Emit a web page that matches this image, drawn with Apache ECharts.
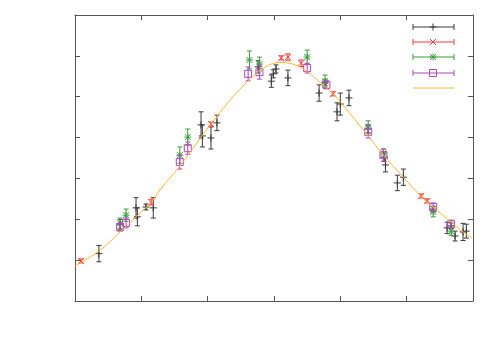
<!DOCTYPE html>
<html>
<head>
<meta charset="utf-8">
<script src="https://cdn.jsdelivr.net/npm/echarts@6/dist/echarts.min.js"></script>
<style>
html,body{margin:0;padding:0;background:#fff;}
#chart{width:500px;height:350px;}
</style>
</head>
<body>
<div id="chart"></div>
<script>
// [x, y, error]
const blackData = [
  [0.36,1.16,0.20],[0.68,1.88,0.12],[0.92,2.28,0.25],[0.94,2.06,0.22],[1.07,2.30,0.07],
  [1.18,2.28,0.25],[1.90,4.31,0.32],[1.92,4.04,0.27],[2.05,3.99,0.27],[2.14,4.36,0.19],
  [2.76,5.73,0.15],[2.96,5.38,0.15],[2.99,5.56,0.10],[3.03,5.68,0.10],[3.21,5.46,0.19],
  [3.68,5.09,0.20],[3.77,5.34,0.07],[3.95,4.63,0.22],[4.00,4.82,0.27],[4.13,4.97,0.19],
  [4.42,4.21,0.10],[4.66,3.52,0.10],[4.68,3.33,0.17],[4.86,2.89,0.19],[4.95,3.03,0.20],
  [5.40,2.25,0.07],[5.61,1.79,0.14],[5.67,1.84,0.07],[5.73,1.59,0.12],[5.85,1.69,0.21],
  [5.90,1.71,0.17]
];
const redData = [
  [0.09,0.98,0.05],[1.15,2.42,0.07],[2.05,4.33,0.05],[3.11,5.95,0.05],[3.21,5.97,0.08],
  [3.41,5.82,0.08],[3.89,5.07,0.05],[5.22,2.57,0.05],[5.31,2.45,0.05]
];
const greenData = [
  [0.68,1.90,0.13],[0.77,2.10,0.15],[1.58,3.57,0.20],[1.70,4.01,0.20],[2.63,5.90,0.22],
  [2.78,5.80,0.17],[3.50,5.97,0.17],[3.77,5.38,0.15],[4.42,4.26,0.15],[4.65,3.62,0.10],
  [5.40,2.18,0.12],[5.67,1.71,0.10]
];
const purpleData = [
  [0.68,1.81,0.10],[0.77,1.91,0.12],[1.58,3.40,0.17],[1.70,3.74,0.15],[2.61,5.56,0.17],
  [2.78,5.60,0.17],[3.50,5.70,0.12],[3.79,5.29,0.10],[4.42,4.14,0.15],[4.65,3.57,0.15],
  [5.40,2.30,0.10],[5.67,1.88,0.10]
];
const fitCurve = [
  [0,0.86],[0.36,1.22],[0.68,1.69],[0.92,2.06],[1.15,2.42],[1.28,2.72],[1.58,3.30],
  [1.90,4.01],[2.04,4.31],[2.34,4.92],[2.64,5.43],[2.87,5.73],[3.09,5.84],[3.32,5.78],
  [3.47,5.65],[3.65,5.41],[3.89,5.07],[4.15,4.58],[4.42,4.04],[4.65,3.57],[4.95,3.03],
  [5.21,2.57],[5.40,2.30],[5.67,1.93],[5.85,1.69],[5.99,1.54]
];

const C_BLACK = '#3a3a3a', C_RED = '#ff3b3b', C_GREEN = '#3a9e3a', C_PURPLE = '#b048c0', C_ORANGE = '#ffb733';

function markerShapes(shape, cx, cy, color) {
  const st = {stroke: color, lineWidth: 1, fill: null};
  const L = (x1,y1,x2,y2) => ({type:'line', shape:{x1,y1,x2,y2}, style:st});
  const r = 3.5, d = 3;
  if (shape === 'plus') return [L(cx-r,cy,cx+r,cy), L(cx,cy-r,cx,cy+r)];
  if (shape === 'cross') return [L(cx-d,cy-d,cx+d,cy+d), L(cx-d,cy+d,cx+d,cy-d)];
  if (shape === 'star') return [L(cx-r,cy,cx+r,cy), L(cx,cy-r,cx,cy+r), L(cx-d,cy-d,cx+d,cy+d), L(cx-d,cy+d,cx+d,cy-d)];
  if (shape === 'square') return [{type:'rect', shape:{x:cx-3.5,y:cy-3.5,width:7,height:7}, style:st}];
  return [];
}

function makeRender(color, shape) {
  return function (params, api) {
    const x = api.value(0), y = api.value(1), e = api.value(2);
    const c = api.coord([x, y]);
    const t = api.coord([x, y + e]);
    const b = api.coord([x, y - e]);
    const st = {stroke: color, lineWidth: 1};
    const cw = 2.5;
    const children = [
      {type:'line', shape:{x1:c[0], y1:t[1], x2:c[0], y2:b[1]}, style:st},
      {type:'line', shape:{x1:c[0]-cw, y1:t[1], x2:c[0]+cw, y2:t[1]}, style:st},
      {type:'line', shape:{x1:c[0]-cw, y1:b[1], x2:c[0]+cw, y2:b[1]}, style:st}
    ].concat(markerShapes(shape, c[0], c[1], color));
    return {type:'group', children};
  };
}

function errSeries(name, data, color, shape) {
  return {
    name, type:'custom', data, renderItem: makeRender(color, shape),
    encode:{x:0, y:1}, clip:false, silent:true, animation:false
  };
}

// legend drawn as graphic
const legendItems = [
  {color:C_BLACK, shape:'plus', y:27},
  {color:C_RED, shape:'cross', y:42},
  {color:C_GREEN, shape:'star', y:57},
  {color:C_PURPLE, shape:'square', y:73},
  {color:C_ORANGE, shape:'line', y:88}
];
const graphics = [];
legendItems.forEach(it => {
  const x1 = 413, x2 = 454, y = it.y;
  const st = {stroke: it.color, lineWidth: 1};
  graphics.push({type:'line', shape:{x1, y1:y, x2, y2:y}, style:st, silent:true});
  if (it.shape !== 'line') {
    graphics.push({type:'line', shape:{x1, y1:y-3, x2:x1, y2:y+3}, style:st, silent:true});
    graphics.push({type:'line', shape:{x1:x2, y1:y-3, x2:x2, y2:y+3}, style:st, silent:true});
    markerShapes(it.shape, 433, y, it.color).forEach(m => { m.silent = true; graphics.push(m); });
  }
});

const axisCommon = {
  type:'value',
  axisLine:{show:true, onZero:false, lineStyle:{color:'#555', width:1}},
  axisTick:{show:true, inside:true, length:5, lineStyle:{color:'#555'}},
  axisLabel:{show:false},
  splitLine:{show:false}
};

const chart = echarts.init(document.getElementById('chart'), null, {renderer:'canvas'});
chart.setOption({
  animation:false,
  backgroundColor:'#fff',
  grid:{left:75, right:27, top:15, bottom:49},
  xAxis:[
    Object.assign({}, axisCommon, {position:'bottom', min:0, max:6, interval:1}),
    Object.assign({}, axisCommon, {position:'top', min:0, max:6, interval:1})
  ],
  yAxis:[
    Object.assign({}, axisCommon, {position:'left', min:0, max:7, interval:1}),
    Object.assign({}, axisCommon, {position:'right', min:0, max:7, interval:1})
  ],
  graphic: graphics,
  series:[
    errSeries('s1', blackData, C_BLACK, 'plus'),
    errSeries('s2', redData, C_RED, 'cross'),
    errSeries('s3', greenData, C_GREEN, 'star'),
    errSeries('s4', purpleData, C_PURPLE, 'square'),
    {
      name:'fit', type:'line', data: fitCurve, smooth:0.4, showSymbol:false,
      lineStyle:{color:C_ORANGE, width:1}, silent:true
    }
  ]
});
</script>
</body>
</html>
